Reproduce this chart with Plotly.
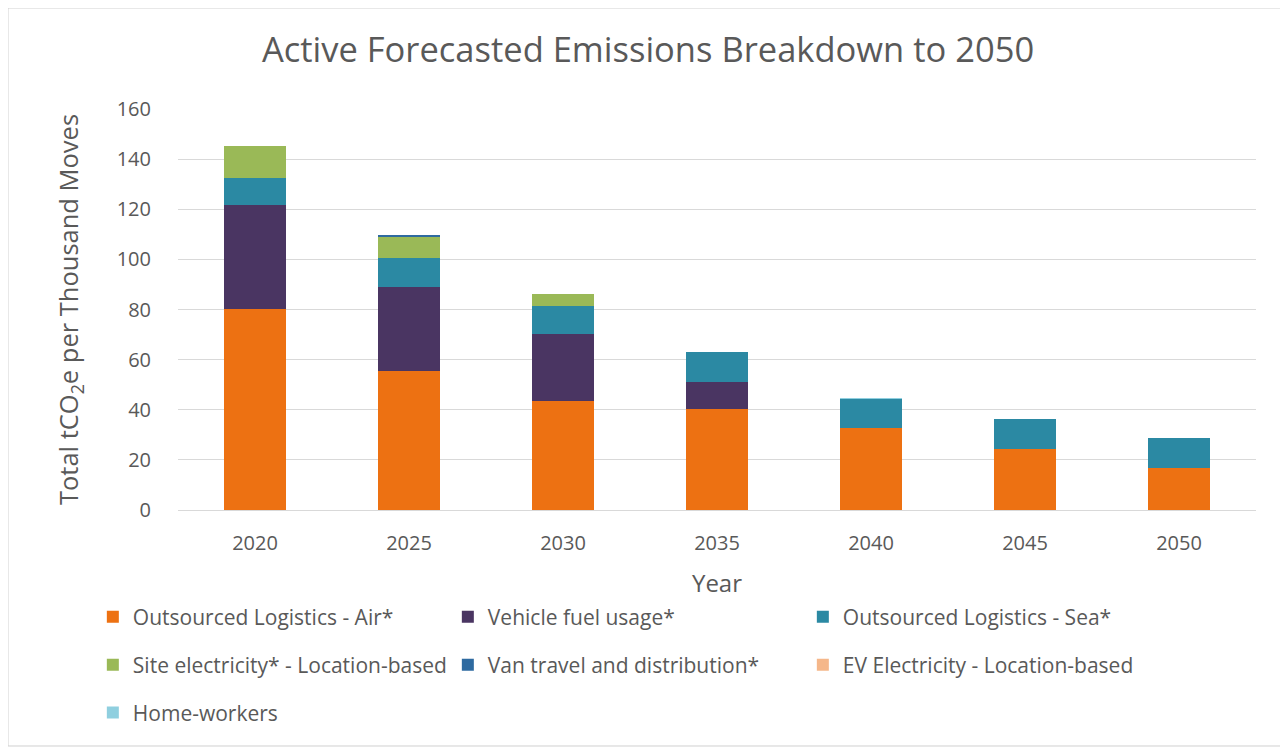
import plotly.graph_objects as go

years = ["2020", "2025", "2030", "2035", "2040", "2045", "2050"]
air = [80.3, 55.5, 43.5, 40.2, 32.6, 24.3, 16.8]
vehicle = [41.4, 33.4, 26.6, 10.8, 0, 0, 0]
sea = [10.9, 11.5, 11.3, 12.2, 11.7, 12.0, 12.1]
site = [12.8, 8.4, 4.7, 0, 0, 0, 0]
van = [0, 0.8, 0, 0, 0, 0, 0]
ev = [0, 0, 0, 0, 0, 0, 0]
home = [0, 0, 0, 0, 0.2, 0, 0]

series = [
    ("Outsourced Logistics - Air*", air, "#ED7112", "legend"),
    ("Vehicle fuel usage*", vehicle, "#4A3562", "legend"),
    ("Outsourced Logistics - Sea*", sea, "#2B89A3", "legend"),
    ("Site electricity* - Location-based", site, "#9AB957", "legend2"),
    ("Van travel and distribution*", van, "#2E6AA0", "legend2"),
    ("EV Electricity - Location-based", ev, "#F5B78A", "legend2"),
    ("Home-workers", home, "#8FCFDF", "legend3"),
]

FONT = "Open Sans"
GREY = "#595959"

fig = go.Figure()
for name, vals, col, lg in series:
    fig.add_trace(go.Bar(x=years, y=vals, name=name, legend=lg,
                         marker=dict(color=col, line=dict(width=0))))

def leg(y):
    return dict(orientation="h", x=-0.079, xanchor="left", y=y, yanchor="middle",
                entrywidth=310, entrywidthmode="pixels", traceorder="normal",
                font=dict(size=21, color=GREY, family=FONT), itemwidth=30,
                bgcolor="rgba(0,0,0,0)")

fig.update_layout(
    width=1280, height=739,
    barmode="stack", bargap=0.6,
    paper_bgcolor="white", plot_bgcolor="white",
    margin=dict(l=170, r=32, t=101, b=237),
    font=dict(family=FONT, color=GREY, size=20),
    title=dict(text="Active Forecasted Emissions Breakdown to 2050", x=0.5, xanchor="center",
               y=0.943, yanchor="middle", font=dict(size=34.5, color=GREY, family=FONT)),
    xaxis=dict(title=dict(text="Year", font=dict(size=24, color=GREY), standoff=20),
               tickfont=dict(size=20, color=GREY), showline=True, linecolor="#d9d9d9",
               ticks="", ticklabelstandoff=15),
    yaxis=dict(title=dict(text="Total tCO<sub>2</sub>e per Thousand Moves", font=dict(size=25.5, color=GREY), standoff=30),
               range=[0, 160], dtick=20, tickfont=dict(size=20, color=GREY),
               showgrid=True, gridcolor="#d9d9d9", gridwidth=1, zeroline=False, ticks="",
               ticklabelstandoff=26),
    legend=leg(-0.267),
    legend2=leg(-0.387),
    legend3=leg(-0.506),
    shapes=[dict(type="rect", xref="paper", yref="paper", x0=-0.1577, x1=1.0288, y0=-0.5885, y1=1.2519,
                 line=dict(color="#d0d0d0", width=1))],
)

fig.write_html("out.html")
